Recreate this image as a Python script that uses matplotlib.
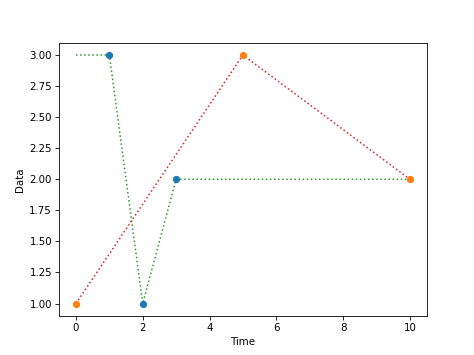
import matplotlib
matplotlib.use('Agg')
import matplotlib.pyplot as plt

# series A: observed points and the filled line through them
a_time = [1, 2, 3]
a_data = [3, 1, 2]
a_line_time = [0, 1, 2, 3, 10]
a_line_data = [3, 3, 1, 2, 2]

# series B
b_time = [0, 5, 10]
b_data = [1, 3, 2]

fig, ax = plt.subplots(figsize=(474 / 74, 355 / 74), dpi=74)

ax.plot(a_line_time, a_line_data, ':', color='tab:green')
ax.plot(b_time, b_data, ':', color='tab:red')
ax.scatter(a_time, a_data, color='C0', zorder=3)
ax.scatter(b_time, b_data, color='C1', zorder=3)

ax.set_xlabel('Time')
ax.set_ylabel('Data')

fig.savefig('out.png')
